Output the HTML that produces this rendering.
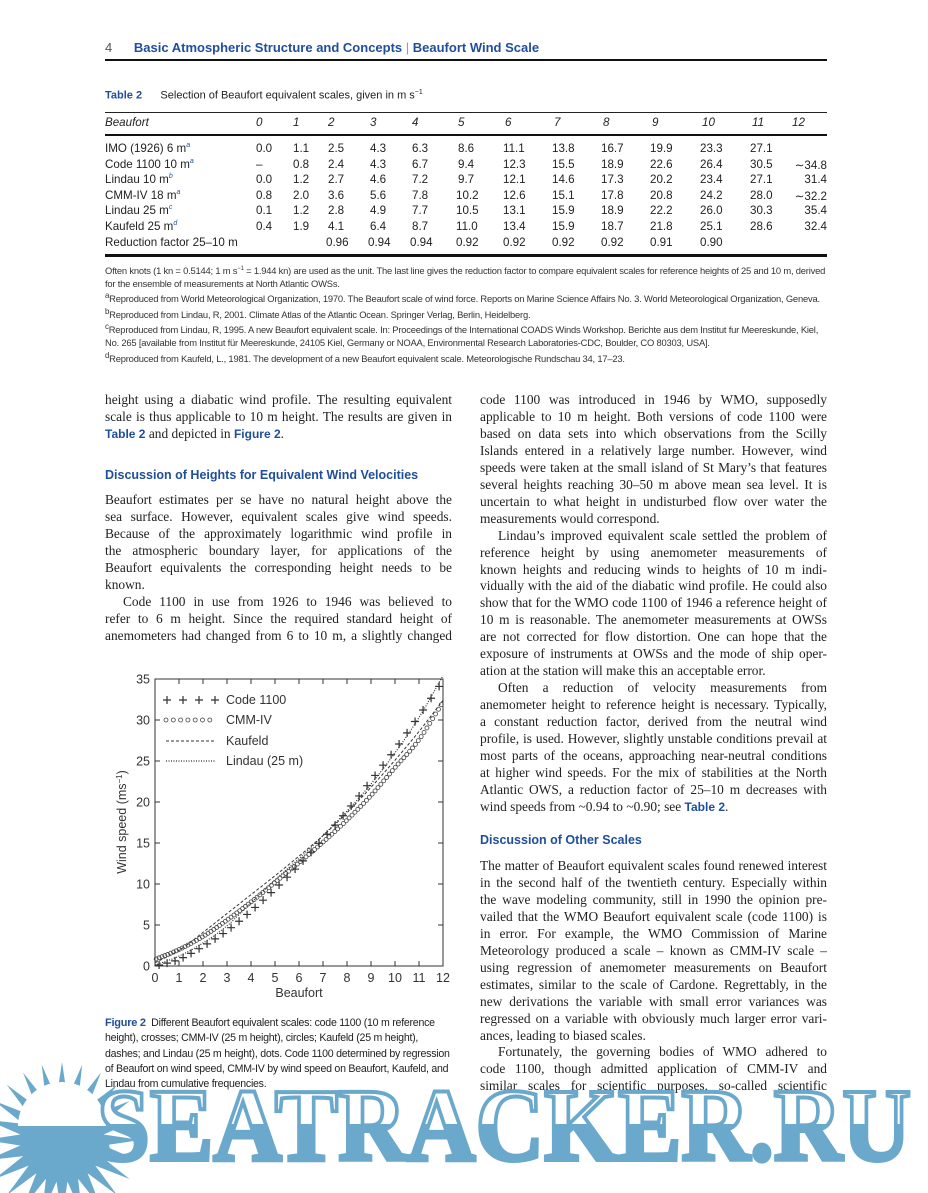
<!DOCTYPE html>
<html><head><meta charset="utf-8"><style>
body{margin:0;background:#fff;}
#p{position:relative;width:928px;height:1193px;overflow:hidden;background:#fff;font-family:"Liberation Serif",serif;color:#222;}
.a{position:absolute;white-space:nowrap;}
.sans{font-family:"Liberation Sans",sans-serif;}
.blue{color:#1f4e9b;}
.col{position:absolute;width:347px;font-size:13.4px;line-height:16.95px;}
.col div{text-align:justify;text-align-last:justify;white-space:nowrap;overflow:visible;}
.col div.e{text-align-last:left;}
.col div.i{text-indent:18px;}
.h{font-family:"Liberation Sans",sans-serif;font-weight:bold;color:#1f4e9b;font-size:12.5px;position:absolute;}
.tb{position:absolute;font-family:"Liberation Sans",sans-serif;font-size:11.6px;color:#222;}
.fn{position:absolute;left:105px;width:722px;font-family:"Liberation Sans",sans-serif;font-size:9.4px;line-height:12.6px;color:#333;letter-spacing:-0.2px;}
.cap{position:absolute;left:105px;width:350px;font-family:"Liberation Sans",sans-serif;font-size:10.6px;line-height:15.3px;color:#222;letter-spacing:-0.25px;}
</style></head><body><div id="p">
<div class="a sans" style="left:105px;top:40px;font-size:13px;font-weight:bold;"><span style="color:#555;font-weight:normal">4</span>&nbsp;&nbsp;&nbsp;&nbsp;&nbsp; <span class="blue">Basic Atmospheric Structure and Concepts <span style="color:#999;font-weight:normal">|</span> Beaufort Wind Scale</span></div>
<div class="a" style="left:105px;top:59px;width:722px;height:2px;background:#111"></div>

<div class="a sans" style="left:105px;top:89px;font-size:11px;"><b class="blue">Table 2</b>&nbsp;&nbsp;&nbsp;&nbsp;&nbsp; Selection of Beaufort equivalent scales, given in m s<sup style="font-size:7px">−1</sup></div>
<div class="a" style="left:105px;top:112px;width:722px;height:1px;background:#222"></div>
<div class="a" style="left:105px;top:134px;width:722px;height:2px;background:#111"></div>
<div class="a" style="left:105px;top:254px;width:722px;height:3px;background:#111"></div>
<div id="tbl"></div>

<div class="fn" style="top:263px">Often knots (1 kn = 0.5144; 1 m s<sup style="font-size:6px">−1</sup> = 1.944 kn) are used as the unit. The last line gives the reduction factor to compare equivalent scales for reference heights of 25 and 10 m, derived for the ensemble of measurements at North Atlantic OWSs.</div>
<div class="fn" style="top:290px"><sup>a</sup>Reproduced from World Meteorological Organization, 1970. The Beaufort scale of wind force. Reports on Marine Science Affairs No. 3. World Meteorological Organization, Geneva.<br><sup>b</sup>Reproduced from Lindau, R, 2001. Climate Atlas of the Atlantic Ocean. Springer Verlag, Berlin, Heidelberg.<br><sup>c</sup>Reproduced from Lindau, R, 1995. A new Beaufort equivalent scale. In: Proceedings of the International COADS Winds Workshop. Berichte aus dem Institut fur Meereskunde, Kiel, No. 265 [available from Institut für Meereskunde, 24105 Kiel, Germany or NOAA, Environmental Research Laboratories-CDC, Boulder, CO 80303, USA].<br><sup>d</sup>Reproduced from Kaufeld, L., 1981. The development of a new Beaufort equivalent scale. Meteorologische Rundschau 34, 17–23.</div>

<div class="col" style="left:105px;top:392px">
<div>height using a diabatic wind profile. The resulting equivalent</div>
<div>scale is thus applicable to 10 m height. The results are given in</div>
<div class="e"><b class="blue sans" style="font-size:12px">Table 2</b> and depicted in <b class="blue sans" style="font-size:12px">Figure 2</b>.</div>
</div>
<div class="h" style="left:105px;top:468px">Discussion of Heights for Equivalent Wind Velocities</div>
<div class="col" style="left:105px;top:492px">
<div>Beaufort estimates per se have no natural height above the</div>
<div>sea surface. However, equivalent scales give wind speeds.</div>
<div>Because of the approximately logarithmic wind profile in</div>
<div>the atmospheric boundary layer, for applications of the</div>
<div>Beaufort equivalents the corresponding height needs to be</div>
<div class="e">known.</div>
<div class="i">Code 1100 in use from 1926 to 1946 was believed to</div>
<div>refer to 6 m height. Since the required standard height of</div>
<div>anemometers had changed from 6 to 10 m, a slightly changed</div>
</div>

<div class="col" style="left:480px;top:392px">
<div>code 1100 was introduced in 1946 by WMO, supposedly</div>
<div>applicable to 10 m height. Both versions of code 1100 were</div>
<div>based on data sets into which observations from the Scilly</div>
<div>Islands entered in a relatively large number. However, wind</div>
<div>speeds were taken at the small island of St Mary’s that features</div>
<div>several heights reaching 30–50 m above mean sea level. It is</div>
<div>uncertain to what height in undisturbed flow over water the</div>
<div class="e">measurements would correspond.</div>
<div class="i">Lindau’s improved equivalent scale settled the problem of</div>
<div>reference height by using anemometer measurements of</div>
<div>known heights and reducing winds to heights of 10 m indi-</div>
<div>vidually with the aid of the diabatic wind profile. He could also</div>
<div>show that for the WMO code 1100 of 1946 a reference height of</div>
<div>10 m is reasonable. The anemometer measurements at OWSs</div>
<div>are not corrected for flow distortion. One can hope that the</div>
<div>exposure of instruments at OWSs and the mode of ship oper-</div>
<div class="e">ation at the station will make this an acceptable error.</div>
<div class="i">Often a reduction of velocity measurements from</div>
<div>anemometer height to reference height is necessary. Typically,</div>
<div>a constant reduction factor, derived from the neutral wind</div>
<div>profile, is used. However, slightly unstable conditions prevail at</div>
<div>most parts of the oceans, approaching near-neutral conditions</div>
<div>at higher wind speeds. For the mix of stabilities at the North</div>
<div>Atlantic OWS, a reduction factor of 25–10 m decreases with</div>
<div class="e">wind speeds from ~0.94 to ~0.90; see <b class="blue sans" style="font-size:12px">Table 2</b>.</div>
</div>
<div class="h" style="left:480px;top:833px">Discussion of Other Scales</div>
<div class="col" style="left:480px;top:858px">
<div>The matter of Beaufort equivalent scales found renewed interest</div>
<div>in the second half of the twentieth century. Especially within</div>
<div>the wave modeling community, still in 1990 the opinion pre-</div>
<div>vailed that the WMO Beaufort equivalent scale (code 1100) is</div>
<div>in error. For example, the WMO Commission of Marine</div>
<div>Meteorology produced a scale – known as CMM-IV scale –</div>
<div>using regression of anemometer measurements on Beaufort</div>
<div>estimates, similar to the scale of Cardone. Regrettably, in the</div>
<div>new derivations the variable with small error variances was</div>
<div>regressed on a variable with obviously much larger error vari-</div>
<div class="e">ances, leading to biased scales.</div>
<div class="i">Fortunately, the governing bodies of WMO adhered to</div>
<div>code 1100, though admitted application of CMM-IV and</div>
<div>similar scales for scientific purposes, so-called scientific</div>
</div>

<div class="cap" style="top:1016px"><b class="blue" style="font-size:11px">Figure 2</b>&nbsp; Different Beaufort equivalent scales: code 1100 (10 m reference height), crosses; CMM-IV (25 m height), circles; Kaufeld (25 m height), dashes; and Lindau (25 m height), dots. Code 1100 determined by regression of Beaufort on wind speed, CMM-IV by wind speed on Beaufort, Kaufeld, and Lindau from cumulative frequencies.</div>

<svg id="ch" class="a" style="left:0;top:0" width="928" height="1193" font-family="Liberation Sans, sans-serif"></svg>
</div>
<script>
var NS="http://www.w3.org/2000/svg",svg=document.getElementById('ch');
function el(t,a,txt){var e=document.createElementNS(NS,t);for(var k in a)e.setAttribute(k,a[k]);if(txt!=null)e.textContent=txt;svg.appendChild(e);return e;}
// table
var cx=[256,293,328,370,412,458,505,554,603,652,702,752];
var rows=[["IMO (1926) 6 m","a",["0.0","1.1","2.5","4.3","6.3","8.6","11.1","13.8","16.7","19.9","23.3","27.1",""]],
["Code 1100 10 m","a",["–","0.8","2.4","4.3","6.7","9.4","12.3","15.5","18.9","22.6","26.4","30.5","∼34.8"]],
["Lindau 10 m","b",["0.0","1.2","2.7","4.6","7.2","9.7","12.1","14.6","17.3","20.2","23.4","27.1","31.4"]],
["CMM-IV 18 m","a",["0.8","2.0","3.6","5.6","7.8","10.2","12.6","15.1","17.8","20.8","24.2","28.0","∼32.2"]],
["Lindau 25 m","c",["0.1","1.2","2.8","4.9","7.7","10.5","13.1","15.9","18.9","22.2","26.0","30.3","35.4"]],
["Kaufeld 25 m","d",["0.4","1.9","4.1","6.4","8.7","11.0","13.4","15.9","18.7","21.8","25.1","28.6","32.4"]],
["Reduction factor 25–10 m","",["","","0.96","0.94","0.94","0.92","0.92","0.92","0.92","0.91","0.90","",""]]];
var T=document.getElementById('tbl'),h='';
h+='<div class="tb" style="left:105px;top:116px;font-style:italic">Beaufort</div>';
for(var i=0;i<13;i++)h+='<div class="tb" style="'+(i==12?'left:792px':'left:'+cx[i]+'px')+';top:116px;font-style:italic">'+i+'</div>';
rows.forEach(function(r,j){var y=142+j*15.6;
h+='<div class="tb" style="left:105px;top:'+y+'px">'+r[0]+(r[1]?'<sup style="font-size:7px;font-style:italic;color:#1f4e9b">'+r[1]+'</sup>':'')+'</div>';
r[2].forEach(function(v,i){if(!v)return;if(i==12)h+='<div class="tb" style="right:101px;top:'+y+'px">'+v+'</div>';
else h+='<div class="tb" style="left:'+(cx[i]+(v.length>3?-2:0))+'px;top:'+y+'px">'+v+'</div>';});});
T.innerHTML=h;
// chart
function X(b){return 155+24*b;}function Y(v){return 966-8.2*v;}
el('rect',{x:155,y:679,width:288,height:287,fill:'none',stroke:'#333','stroke-width':1});
for(var b=0;b<=12;b++){el('line',{x1:X(b),y1:966,x2:X(b),y2:961,stroke:'#333'});el('line',{x1:X(b),y1:679,x2:X(b),y2:684,stroke:'#333'});
el('text',{x:X(b),y:982,'font-size':12.5,'text-anchor':'middle',fill:'#333'},b);}
for(var v=0;v<=35;v+=5){el('line',{x1:155,y1:Y(v),x2:160,y2:Y(v),stroke:'#333'});el('line',{x1:443,y1:Y(v),x2:438,y2:Y(v),stroke:'#333'});
el('text',{x:150,y:Y(v)+4.5,'font-size':12.5,'text-anchor':'end',fill:'#333'},v);}
el('text',{x:299,y:997,'font-size':12.5,'text-anchor':'middle',fill:'#333'},'Beaufort');
var t=el('text',{x:0,y:0,'font-size':12.5,'text-anchor':'middle',fill:'#333',transform:'translate(126,822) rotate(-90)'},'Wind speed (ms');
var ts=document.createElementNS(NS,'tspan');ts.setAttribute('dy',-4);ts.setAttribute('font-size',8);ts.textContent='−1';t.appendChild(ts);
var ts2=document.createElementNS(NS,'tspan');ts2.setAttribute('dy',4);ts2.textContent=')';t.appendChild(ts2);
function interp(a,b){var i=Math.min(11,Math.floor(b)),f=b-i;
var m0=i>0?(a[i+1]-a[i-1])/2:a[1]-a[0],m1=i<11?(a[i+2]-a[i])/2:a[12]-a[11];
var h00=2*f*f*f-3*f*f+1,h10=f*f*f-2*f*f+f,h01=-2*f*f*f+3*f*f,h11=f*f*f-f*f;return h00*a[i]+h10*m0+h01*a[i+1]+h11*m1;}
var cd=[0,0.8,2.4,4.3,6.7,9.4,12.3,15.5,18.9,22.6,26.4,30.5,34.8],
cm=[0.8,2.0,3.6,5.6,7.8,10.2,12.6,15.1,17.8,20.8,24.2,27.6,32.2],
ka=[0.4,1.9,4.1,6.4,8.7,11.0,13.4,15.9,18.7,21.8,25.1,28.6,32.4],
li=[0.1,1.2,2.8,4.9,7.7,10.5,13.1,15.9,18.9,22.2,26.0,30.3,35.4];
function path(a){var d='';for(var b=0;b<=12.001;b+=0.1)d+=(d?'L':'M')+X(b).toFixed(1)+','+Y(interp(a,b)).toFixed(1);return d;}
el('path',{d:path(ka),fill:'none',stroke:'#333','stroke-width':1,'stroke-dasharray':'3,2'});
el('path',{d:path(li),fill:'none',stroke:'#333','stroke-width':1.2,'stroke-dasharray':'1,1.5'});
for(var b=0.05;b<=12;b+=0.12){el('circle',{cx:X(b),cy:Y(interp(cm,b)),r:2,fill:'none',stroke:'#444','stroke-width':0.8});}
function cross(x,y,s){el('path',{d:'M'+(x-s)+','+y+'H'+(x+s)+'M'+x+','+(y-s)+'V'+(y+s),stroke:'#333','stroke-width':1.2});}
for(var b=0.17;b<=11.9;b+=1/3)cross(X(b),Y(interp(cd,b)),4);
// legend
[167,183,199,215].forEach(function(x){cross(x,700,4);});
el('text',{x:226,y:704,'font-size':12.5,fill:'#333'},'Code 1100');
for(var x=166;x<=212;x+=7.3)el('circle',{cx:x,cy:720,r:2,fill:'none',stroke:'#444','stroke-width':0.8});
el('text',{x:226,y:724,'font-size':12.5,fill:'#333'},'CMM-IV');
el('line',{x1:166,y1:741,x2:216,y2:741,stroke:'#333','stroke-dasharray':'3,2'});
el('text',{x:226,y:745,'font-size':12.5,fill:'#333'},'Kaufeld');
el('line',{x1:166,y1:761,x2:216,y2:761,stroke:'#333','stroke-width':1.2,'stroke-dasharray':'1,1.5'});
el('text',{x:226,y:765,'font-size':12.5,fill:'#333'},'Lindau (25 m)');
// watermark
var B='#6aa8cc',cxs=62,cys=1140,pts='';
for(var k=0;k<48;k++){var r=k%2?42:78,a=k*Math.PI/24;pts+=(cxs+r*Math.cos(a)).toFixed(1)+','+(cys+r*Math.sin(a)).toFixed(1)+' ';}
el('polygon',{points:pts,fill:B});
el('path',{d:'M18,1126 A44,44 0 0 1 106,1126 Z',fill:'#fff'});
var defs=el('defs',{});var cp=document.createElementNS(NS,'clipPath');cp.setAttribute('id','lo');
var rr=document.createElementNS(NS,'rect');rr.setAttribute('x',0);rr.setAttribute('y',1124);rr.setAttribute('width',928);rr.setAttribute('height',80);cp.appendChild(rr);defs.appendChild(cp);
var wa={x:97,y:1160,'font-size':104,'font-family':'Liberation Serif, serif','font-weight':'bold',textLength:814,lengthAdjust:'spacingAndGlyphs'};
var w1=Object.assign({},wa,{fill:'#fff',stroke:B,'stroke-width':4});el('text',w1,'SEATRACKER.RU');
var w2=Object.assign({},wa,{fill:B,'clip-path':'url(#lo)'});el('text',w2,'SEATRACKER.RU');
</script>
</body></html>
